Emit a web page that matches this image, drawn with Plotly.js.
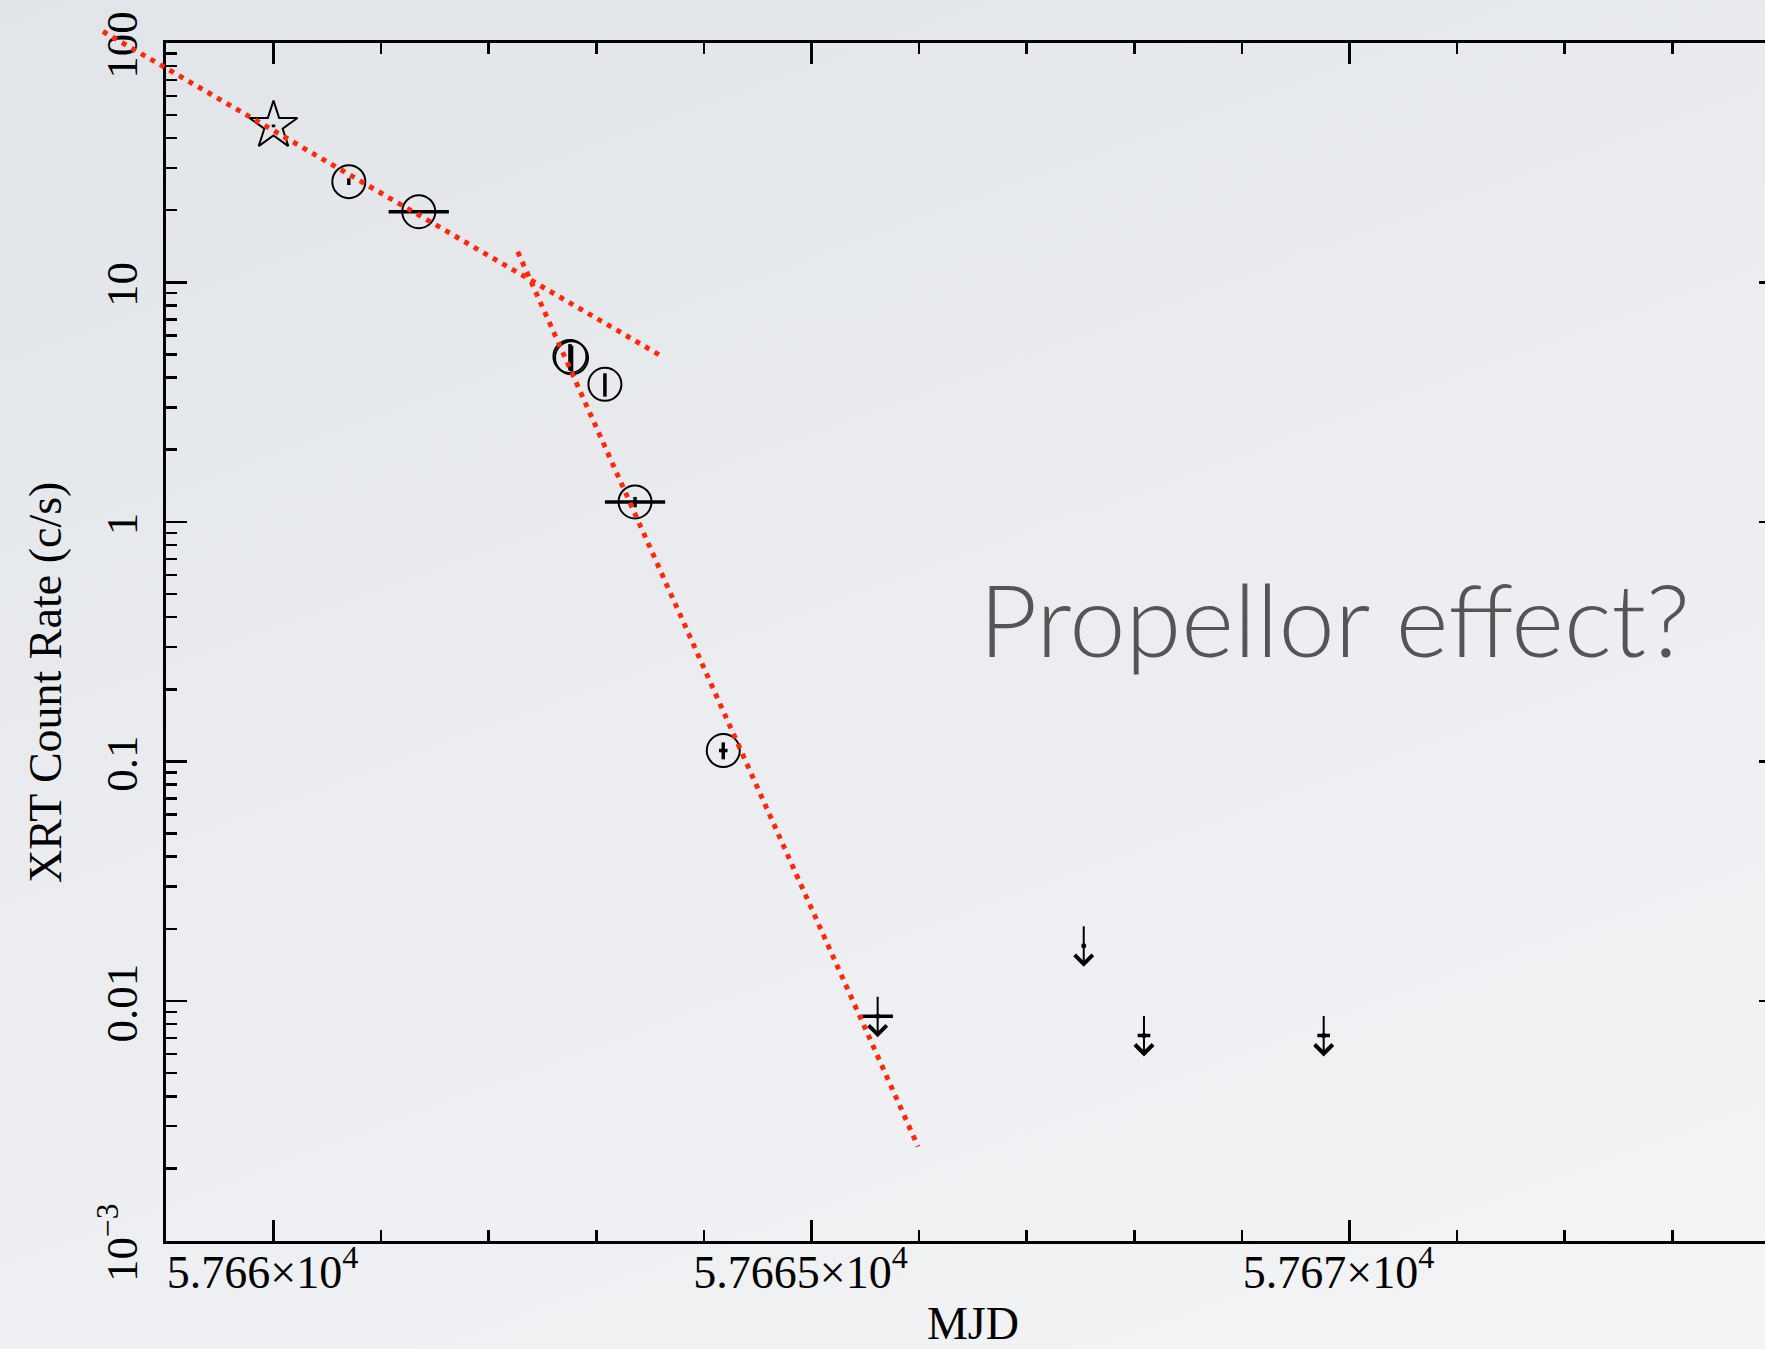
<!DOCTYPE html>
<html><head><meta charset="utf-8">
<script src="https://cdn.plot.ly/plotly-3.0.1.min.js"></script>
<style>
html,body{margin:0;padding:0;overflow:hidden;width:1765px;height:1349px;
background:linear-gradient(160deg,#e1e4e8 0%,#eaecef 45%,#f4f4f6 100%);}
#chart{width:1800px;height:1349px;}
</style></head><body><div id="chart"></div>
<script>
// ---- data ----
const starMjd = [57660.00];
const starRate = [45.0];
const starErr = [0.6];

const circMjd = [57660.70, 57661.35, 57662.755, 57662.77, 57663.08, 57663.36, 57664.18];
const circRate = [26.3, 19.7, 4.90, 4.84, 3.75, 1.21, 0.111];
const circRateErr = [0.85, 0.25, 0.62, 0.60, 0.42, 0.06, 0.009];
const circMjdErr = [0, 0.28, 0, 0, 0, 0.28, 0.04];

const ulMjd = [57665.615, 57667.53, 57668.09, 57669.76];
const ulRate = [0.00863, 0.0170, 0.00718, 0.00718];
const ulMjdErr = [0.142, 0, 0.059, 0.059];

const fit1Mjd = [57658.415, 57663.585];
const fit1Rate = [111.4, 4.98];
const fit2Mjd = [57662.27, 57665.99];
const fit2Rate = [13.4, 0.00247];

const xTickVals = [57660, 57665, 57670];
const xTickText = ['5.766×10<sup>4</sup>', '5.7665×10<sup>4</sup>', '5.767×10<sup>4</sup>'];
const yTickVals = [0.001, 0.01, 0.1, 1, 10, 100];
const yTickText = ['10<sup>−3</sup>', '0.01', '0.1', '1', '10', '100'];
const xTitle = 'MJD';
const yTitle = 'XRT Count Rate (c/s)';
const noteText = 'Propellor effect?';

// ---- layout geometry ----
const W = 1800, H = 1349;
const PL = 165.9, PR = 1779.9, PT = 42.7, PB = 1240.5;
const xRange = [57659, 57674], yRange = [-3, 2];
const xDom = [PL / W, PR / W], yDom = [1 - PB / H, 1 - PT / H];
function extend(r, d) {
  const span = (r[1] - r[0]) / (d[1] - d[0]);
  return [r[0] - d[0] * span, r[1] + (1 - d[1]) * span];
}
const pxPerDex = (PB - PT) / (yRange[1] - yRange[0]);
const arrowHalf = 21 / pxPerDex;

const minorY = [];
for (let e = -3; e < 2; e++) for (let m = 2; m <= 9; m++) minorY.push(m * Math.pow(10, e));

const serif = 'Liberation Serif, Times New Roman, serif';
const black = '#000';
const red = '#ff2a0c';

const traces = [
  {
    x: starMjd, y: starRate, type: 'scatter', mode: 'markers', xaxis: 'x', yaxis: 'y',
    cliponaxis: false,
    marker: {symbol: 'star-open', size: 36, color: black, line: {width: 2, color: black}},
    error_y: {type: 'data', array: starErr, color: black, thickness: 3.5, width: 0}
  },
  {
    x: circMjd, y: circRate, type: 'scatter', mode: 'markers', xaxis: 'x', yaxis: 'y',
    cliponaxis: false,
    marker: {symbol: 'circle-open', size: 33, color: black, line: {width: 2, color: black}},
    error_y: {type: 'data', array: circRateErr, color: black, thickness: 3.5, width: 0},
    error_x: {type: 'data', array: circMjdErr, color: black, thickness: 3.5, width: 0}
  },
  {
    x: ulMjd, y: ulRate, type: 'scatter', mode: 'markers', xaxis: 'x', yaxis: 'y',
    cliponaxis: false,
    marker: {symbol: 'circle', size: 5, color: black},
    error_x: {type: 'data', array: ulMjdErr, color: black, thickness: 3.5, width: 0}
  },
  {
    x: fit1Mjd, y: fit1Rate, type: 'scatter', mode: 'lines', xaxis: 'x2', yaxis: 'y2',
    line: {color: red, width: 5, dash: '5px,6px'}
  },
  {
    x: fit2Mjd, y: fit2Rate, type: 'scatter', mode: 'lines', xaxis: 'x2', yaxis: 'y2',
    line: {color: red, width: 5, dash: '5px,6px'}
  }
];

const annotations = ulMjd.map((m, i) => ({
  xref: 'x', yref: 'y', axref: 'x', ayref: 'y',
  x: m, y: Math.log10(ulRate[i]) - arrowHalf,
  ax: m, ay: Math.log10(ulRate[i]) + arrowHalf,
  text: '', showarrow: true, arrowhead: 4, arrowsize: 1.75, arrowwidth: 2,
  arrowcolor: black, standoff: 0
}));
annotations.push({
  xref: 'paper', yref: 'paper', x: 1334 / W, y: 1 - 618 / H,
  xanchor: 'center', yanchor: 'middle', showarrow: false, text: noteText,
  font: {family: 'Lato, Open Sans, sans-serif', size: 101, color: '#555555', weight: 300}
});
annotations.push({
  xref: 'paper', yref: 'paper', x: 45 / W, y: 1 - 683 / H,
  xanchor: 'center', yanchor: 'middle', showarrow: false, text: yTitle, textangle: -90,
  font: {family: serif, size: 46, color: black}
});

const layout = {
  width: W, height: H,
  margin: {l: 0, r: 0, t: 0, b: 0, pad: 0},
  paper_bgcolor: 'rgba(0,0,0,0)', plot_bgcolor: 'rgba(0,0,0,0)',
  showlegend: false,
  xaxis: {
    domain: xDom, range: xRange, type: 'linear', anchor: 'y',
    showline: true, linewidth: 3, linecolor: black, mirror: 'allticks',
    ticks: 'inside', ticklen: 21, tickwidth: 2.5, tickcolor: black,
    tickmode: 'array', tickvals: xTickVals, ticktext: xTickText,
    tickfont: {family: serif, size: 46, color: black},
    ticklabelstandoff: -11, ticklabelshift: -11,
    minor: {ticks: 'inside', ticklen: 11, tickwidth: 2.5, tickcolor: black, tickmode: 'linear', tick0: 57659, dtick: 1, showgrid: false},
    showgrid: false, zeroline: false, fixedrange: true,
    title: {text: xTitle, font: {family: serif, size: 46, color: black}, standoff: 14}
  },
  yaxis: {
    domain: yDom, range: yRange, type: 'log', anchor: 'x',
    showline: true, linewidth: 3, linecolor: black, mirror: 'allticks',
    ticks: 'inside', ticklen: 21, tickwidth: 2.5, tickcolor: black,
    tickmode: 'array', tickvals: yTickVals, ticktext: yTickText, tickangle: -90,
    tickfont: {family: serif, size: 45, color: black},
    ticklabelstandoff: 8, ticklabelshift: 9,
    minor: {ticks: 'inside', ticklen: 11, tickwidth: 2.5, tickcolor: black, tickmode: 'array', tickvals: minorY, showgrid: false},
    showgrid: false, zeroline: false, fixedrange: true
  },
  xaxis2: {domain: [0, 1], range: extend(xRange, xDom), anchor: 'y2', visible: false, fixedrange: true},
  yaxis2: {domain: [0, 1], range: extend(yRange, yDom), type: 'log', anchor: 'x2', visible: false, fixedrange: true},
  annotations: annotations
};

Plotly.newPlot('chart', traces, layout, {displayModeBar: false, staticPlot: true});
</script></body></html>
